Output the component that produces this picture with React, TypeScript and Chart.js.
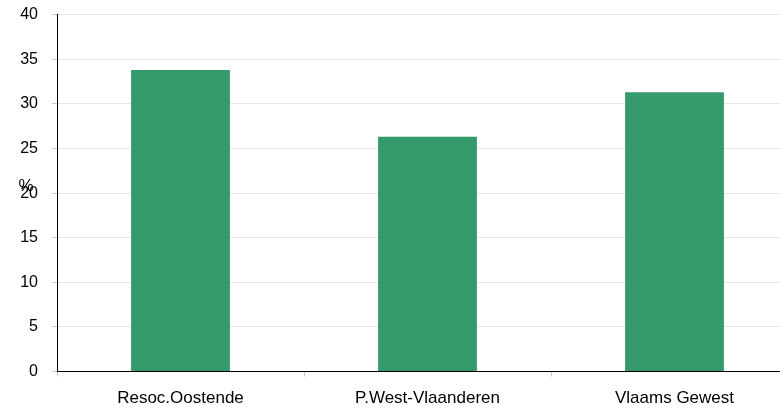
import React, { useEffect, useRef } from "react";
import { Chart, registerables } from "chart.js";

Chart.register(...registerables);

const categories = ["Resoc.Oostende", "P.West-Vlaanderen", "Vlaams Gewest"];
const values = [33.8, 26.3, 31.3];
const yMin = 0;
const yMax = 40;
const yStep = 5;
const yUnit = "%";

const FONT = "'Liberation Sans', Arial, sans-serif";

const unitLabel = {
  id: "unitLabel",
  afterDraw(chart: any) {
    const { ctx, chartArea } = chart;
    ctx.save();
    ctx.font = `17px ${FONT}`;
    ctx.fillStyle = "#000";
    ctx.textAlign = "center";
    ctx.textBaseline = "middle";
    ctx.fillText(yUnit, chartArea.left - 31, (chartArea.top + chartArea.bottom) / 2 - 7);
    ctx.restore();
  },
};

export default function App() {
  const ref = useRef<HTMLCanvasElement | null>(null);

  useEffect(() => {
    document.body.style.margin = "0";
    const canvas = ref.current!;
    const chart = new Chart(canvas, {
      type: "bar",
      data: {
        labels: categories,
        datasets: [
          {
            data: values,
            backgroundColor: "#359a6b",
            borderWidth: 0,
            categoryPercentage: 1,
            barPercentage: 0.4,
          },
        ],
      },
      options: {
        responsive: false,
        animation: false,
        devicePixelRatio: 1,
        layout: { padding: { top: 5, right: 2, bottom: 0, left: 0 } },
        plugins: { legend: { display: false }, tooltip: { enabled: false } },
        scales: {
          x: {
            offset: true,
            grid: {
              offset: true,
              drawOnChartArea: false,
              drawTicks: true,
              tickLength: 5,
              tickColor: "#c8c8c8",
            },
            border: { color: "#000", width: 1 },
            ticks: {
              font: { family: FONT, size: 17 },
              color: "#000",
              padding: 12,
              maxRotation: 0,
            },
          },
          y: {
            min: yMin,
            max: yMax,
            grid: {
              color: "#e6e6e6",
              tickColor: "#c8c8c8",
              tickLength: 5,
            },
            border: { color: "#000", width: 1 },
            ticks: {
              stepSize: yStep,
              font: { family: FONT, size: 16 },
              color: "#000",
              padding: 14,
            },
            afterFit(scale: any) {
              scale.width = 57;
            },
          },
        },
      },
      plugins: [unitLabel],
    });
    return () => chart.destroy();
  }, []);

  return (
    <div
      style={{
        position: "fixed",
        left: 0,
        top: 0,
        width: 780,
        height: 408,
        overflow: "hidden",
        background: "#fff",
      }}
    >
      <canvas
        ref={ref}
        width={800}
        height={430}
        style={{ display: "block", marginTop: -9 }}
      />
    </div>
  );
}
